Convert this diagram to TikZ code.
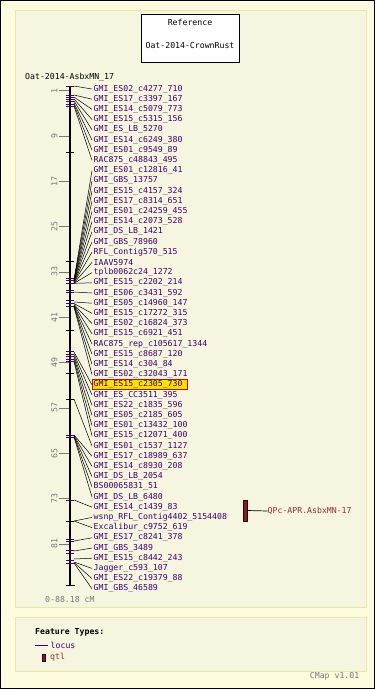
\documentclass[tikz,border=0pt]{standalone}
\usepackage{fontspec}
\setmonofont{DejaVu Sans Mono}
\definecolor{outerbg}{RGB}{254,252,222}
\definecolor{panelbg}{RGB}{245,245,224}
\definecolor{panelline}{RGB}{236,230,168}
\definecolor{locus}{RGB}{64,0,110}
\definecolor{qtlc}{RGB}{135,25,35}
\definecolor{qtltext}{RGB}{150,45,45}
\definecolor{scalegrey}{RGB}{120,120,120}
\definecolor{hlfill}{RGB}{255,225,0}
\tikzset{
  mono/.style={font=\ttfamily\fontsize{8.2}{9}\selectfont},
  lab/.style={mono, text=locus, anchor=west, inner sep=0pt},
  conn/.style={draw=black, line width=0.5pt},
  mtick/.style={draw=locus, line width=1pt},
  btick/.style={draw=black, line width=0.8pt},
  scl/.style={mono, text=scalegrey, rotate=90, inner sep=0pt},
  panel/.style={fill=panelbg, draw=panelline, line width=1pt},
}
\begin{document}
\begin{tikzpicture}[x=1pt,y=-1pt]
\useasboundingbox (0,0) rectangle (375,689);
\fill[outerbg] (0,0) rectangle (375,689);
\draw[black, line width=1pt] (0.5,0.5) rectangle (374.5,688.5);
% panels
\draw[panel] (15,10) rectangle (366,607);
\draw[panel] (15,617) rectangle (366,671);
% reference box
\node[draw=black, fill=white, line width=0.8pt, minimum width=97.5pt, minimum height=47.5pt, inner sep=0pt] (refbox) at (190.25,38.25) {};
\node[mono, text=black] (reft) at (190,22) {Reference};
\node[mono, text=black] (refn) at (190,46) {Oat-2014-CrownRust};
% title
\node[mono, text=black, anchor=west, inner sep=0pt] (title) at (25,77) {Oat-2014-AsbxMN\_17};
% scale ticks
\foreach \c in {1,9,17,25,33,41,49,57,65,73,81}{
  \draw[scalegrey, line width=0.6pt] (59,{85+5.666*\c}) -- (69,{85+5.666*\c});
  \node[scl] (s\c) at (54.5,{85+5.666*\c}) {\c};
}
\node[mono, text=scalegrey, anchor=west, inner sep=0pt] (range) at (45,600) {0-88.18 cM};
% chromosome bar
\coordinate (btop) at (70,86);
\coordinate (bbot) at (70,585);
\draw[black, line width=2.5pt] (btop) -- (bbot);
\draw[btick] (65.5,585) -- (74.5,585);
% black ticks
\foreach \y in {152.7,261.7,330.7,373.3,399,521}{
  \draw[btick] (66,\y) -- (74,\y);
}
% marker ticks
\foreach \y in {86,95,97.3,99.3,101.7,104,106,278.3,280.7,283.3,290,292.7,300,303.3,306.7,351.7,354,356.5,359,361.7,435,437,500,539.3,541.7,550,553.3,560.7,563.3}{
  \draw[mtick] (66,\y) -- (74,\y);
}
% highlight box
\fill[hlfill] (92,379) rectangle (187,389.5);
\draw[red!85!black, line width=0.8pt] (92,379) rectangle (187,389.5);
% labels
\foreach \i/\t in {
1/GMI\_ES02\_c4277\_710,
2/GMI\_ES17\_c3397\_167,
3/GMI\_ES14\_c5079\_773,
4/GMI\_ES15\_c5315\_156,
5/GMI\_ES\_LB\_5270,
6/GMI\_ES14\_c6249\_380,
7/GMI\_ES01\_c9549\_89,
8/RAC875\_c48843\_495,
9/GMI\_ES01\_c12816\_41,
10/GMI\_GBS\_13757,
11/GMI\_ES15\_c4157\_324,
12/GMI\_ES17\_c8314\_651,
13/GMI\_ES01\_c24259\_455,
14/GMI\_ES14\_c2073\_528,
15/GMI\_DS\_LB\_1421,
16/GMI\_GBS\_78960,
17/RFL\_Contig570\_515,
18/IAAV5974,
19/tplb0062c24\_1272,
20/GMI\_ES15\_c2202\_214,
21/GMI\_ES06\_c3431\_592,
22/GMI\_ES05\_c14960\_147,
23/GMI\_ES15\_c17272\_315,
24/GMI\_ES02\_c16824\_373,
25/GMI\_ES15\_c6921\_451,
26/RAC875\_rep\_c105617\_1344,
27/GMI\_ES15\_c8687\_120,
28/GMI\_ES14\_c304\_84,
29/GMI\_ES02\_c32043\_171,
30/GMI\_ES15\_c2305\_730,
31/GMI\_ES\_CC3511\_395,
32/GMI\_ES22\_c1835\_596,
33/GMI\_ES05\_c2185\_605,
34/GMI\_ES01\_c13432\_100,
35/GMI\_ES15\_c12071\_400,
36/GMI\_ES01\_c1537\_1127,
37/GMI\_ES17\_c18989\_637,
38/GMI\_ES14\_c8930\_208,
39/GMI\_DS\_LB\_2054,
40/BS00065831\_51,
41/GMI\_DS\_LB\_6480,
42/GMI\_ES14\_c1439\_83,
43/wsnp\_RFL\_Contig4402\_5154408,
44/Excalibur\_c9752\_619,
45/GMI\_ES17\_c8241\_378,
46/GMI\_GBS\_3489,
47/GMI\_ES15\_c8442\_243,
48/Jagger\_c593\_107,
49/GMI\_ES22\_c19379\_88,
50/GMI\_GBS\_46589}{
  \node[lab] (l\i) at (93.5,{89+10.2*(\i-1)}) {\t};
}
% marker coordinates and connectors
\foreach \i/\m in {1/86,2/95,3/97,4/99,5/101,6/103,7/104.5,8/106,
  9/280,10/280.3,11/280.6,12/281,13/281.3,14/281.6,15/282,16/282.3,17/282.6,18/283,19/283.3,20/283.3,
  21/292,22/302,23/303.5,24/304.5,25/305,26/305.5,27/306,28/306.5,29/307,
  30/352,31/354,32/356,33/358,34/360,35/361.7,
  36/399,37/435,38/435.5,39/436,40/436.5,41/437,
  42/500,43/521,44/521,45/541,46/551,47/559,48/562,49/562.5,50/563}{
  \coordinate (m\i) at (74,\m);
  \draw[conn] (m\i) -- ([xshift=-1.5pt]l\i.west);
}
% QTL
\node[draw=black!70!qtlc, fill=qtlc, line width=0.6pt, minimum width=4pt, minimum height=21pt, inner sep=0pt] (qtl) at (245,510.5) {};
\node[mono, text=qtltext, anchor=west, inner sep=0pt] (qtll) at (267.5,511) {QPc-APR.AsbxMN-17};
\draw[conn, line width=0.7pt] (qtl.east) -- (qtll.west);
% legend
\node[mono, text=black, anchor=west, inner sep=0pt, font=\ttfamily\bfseries\fontsize{8.2}{9}\selectfont] (ft) at (35,632) {Feature Types:};
\coordinate (lg1) at (35,645);
\coordinate (lg2) at (48,645);
\draw[locus, line width=0.8pt] (lg1) -- (lg2);
\node[lab] (lgl) at (50.5,645) {locus};
\node[draw=black!70!qtlc, fill=qtlc, line width=0.5pt, minimum width=3pt, minimum height=7.5pt, inner sep=0pt] (lgq) at (44,657.8) {};
\node[mono, text=qtltext, anchor=west, inner sep=0pt] (lgqt) at (50,657.5) {qtl};
\node[mono, text=scalegrey, anchor=east, inner sep=0pt] (ver) at (359.5,676) {CMap v1.01};
\end{tikzpicture}
\end{document}
